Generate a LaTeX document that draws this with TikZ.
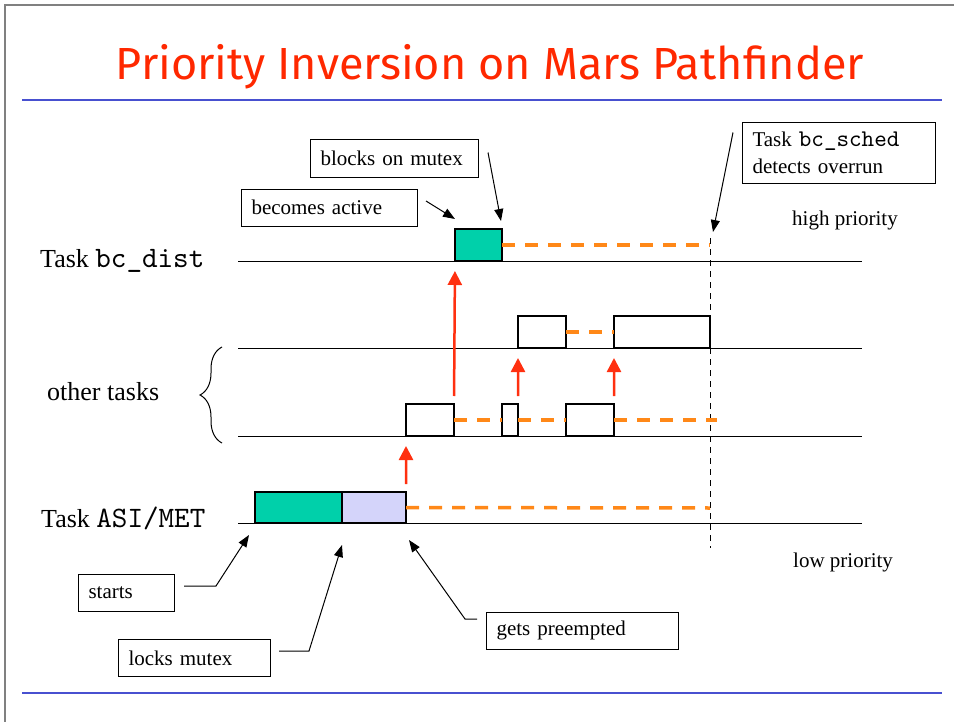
\documentclass[tikz,border=0pt]{standalone}
\usepackage{fontspec}
\setmainfont{Liberation Serif}
\setmonofont{lmmono10-regular.otf}[Scale=1.14]
\newfontfamily\titlefont{Fira Sans}
\usetikzlibrary{arrows.meta, decorations.pathreplacing}

\definecolor{titlered}{RGB}{255,40,0}
\definecolor{ruleblue}{RGB}{72,80,208}
\definecolor{runcolor}{RGB}{0,208,170}
\definecolor{lockcolor}{RGB}{212,212,250}
\definecolor{waitorange}{RGB}{255,136,24}
\definecolor{wakered}{RGB}{255,48,16}

\begin{document}
\begin{tikzpicture}[
    x=1bp, y=-1bp,
    title/.style={font=\titlefont\fontsize{45bp}{50bp}\selectfont, text=titlered, inner sep=0pt, anchor=base},
    rule/.style={draw=ruleblue, line width=2.5bp},
    frame/.style={draw=gray, line width=1.5bp},
    taskline/.style={draw, line width=1bp},
    tasklabel/.style={font=\fontsize{26bp}{30bp}\selectfont, inner sep=0pt, anchor=base west},
    slot/.style={rectangle, draw, line width=1.2bp, fill=white, inner sep=0pt, outer sep=0pt, minimum height=32bp},
    running/.style={slot, fill=runcolor},
    locked/.style={slot, fill=lockcolor},
    waiting/.style={draw=waitorange, line width=3.5bp, dash pattern=on 13bp off 10bp},
    wake/.style={draw=wakered, line width=2.5bp, -{Triangle[length=14bp,width=14bp]}, shorten <=8bp, shorten >=10bp},
    deadline/.style={draw, line width=1bp, dash pattern=on 6bp off 5bp},
    note/.style={rectangle, draw, line width=1bp, fill=white, anchor=west, inner xsep=10bp, inner ysep=0pt, minimum height=37bp, font=\fontsize{21bp}{27bp}\selectfont, align=left},
    callout/.style={draw, line width=1bp, -{Triangle[length=12bp,width=9bp]}},
    prio/.style={font=\fontsize{21bp}{26bp}\selectfont, inner sep=0pt, anchor=base west}
]
\useasboundingbox (0,0) rectangle (954,722);

% Slide frame and title
\draw[frame] (5,722) -- (5,5) -- (954,5);
\node[title] (ttl) at (490,80) {Priority Inversion on Mars Pathfinder};
\draw[rule] (22,100) -- (942,100);
\draw[rule] (22,693) -- (942,693);

% Task lines
\foreach \y in {261,348,436,523}
    \draw[taskline] (238,\y) -- (862,\y);

% Task names
\node[tasklabel] (hi) at (40,267) {Task \texttt{bc\_dist}};
\node[tasklabel] (other) at (47,400) {other tasks};
\node[tasklabel] (lo) at (41,527) {Task \texttt{ASI/MET}};
\draw[decorate, decoration={brace, amplitude=22bp}, line width=1bp] (222,443) -- (222,347);
\node[prio] (hp) at (792,225) {high priority};
\node[prio] (lp) at (793,567) {low priority};

% Deadline
\coordinate (dtop) at (710,238);
\coordinate (dbot) at (710,548);
\draw[deadline] (dtop) -- (dbot);

% Time slots
\node[running, minimum width=47bp] (hb) at (478.5,245) {};
\node[slot, minimum width=48bp] (o1) at (542,332) {};
\node[slot, minimum width=96bp] (o2) at (662,332) {};
\node[slot, minimum width=48bp] (l1) at (430,420) {};
\node[slot, minimum width=16bp] (l2) at (510,420) {};
\node[slot, minimum width=48bp] (l3) at (590,420) {};
\node[running, minimum width=87bp, minimum height=31bp] (asi1) at (298.5,507.5) {};
\node[locked, minimum width=64bp, minimum height=31bp] (asi2) at (374,507.5) {};

% Waiting
\coordinate (hend) at (710,245);
\coordinate (lend) at (717,420);
\coordinate (aend) at (710,508);
\draw[waiting] (hb.east) -- (hend);
\draw[waiting] (o1.east) -- (o2.west);
\draw[waiting] (l1.east) -- (l2.west);
\draw[waiting] (l2.east) -- (l3.west);
\draw[waiting] (l3.east) -- (lend);
\draw[waiting] (asi2.east) -- (aend);

% Preemptions
\draw[wake] (asi2.north east) -- (l1.south west);
\draw[wake] (l1.north east) -- (hb.south west);
\draw[wake] (l2.north east) -- (o1.south west);
\draw[wake] (l3.north east) -- (o2.south west);

% Notes
\node[note, text width=148bp] (blk) at (310,158.5) {blocks on mutex};
\node[note, text width=156bp] (act) at (241,207.5) {becomes active};
\node[note, text width=173bp, minimum height=60bp] (sch) at (742,153) {Task \texttt{bc\_sched}\\detects overrun};
\node[note, text width=76bp] (st) at (78,592.5) {starts};
\node[note, text width=132bp] (lk) at (118,658) {locks mutex};
\node[note, text width=172bp] (gp) at (486,630.5) {gets preempted};

\draw[callout] ([shift={(9,13)}]blk.north east) -- ([shift={(-1,-8)}]hb.north east);
\draw[callout] ([shift={(8,-6.5)}]act.east) -- ([shift={(0,-10)}]hb.north west);
\draw[callout] ([shift={(-9,10)}]sch.north west) -- ([shift={(3,-13)}]hend);
\draw[callout] ([shift={(9,-6.5)}]st.east) -- ++(32,0) -- ([shift={(-6,12)}]asi1.south west);
\draw[callout] ([shift={(8,-7)}]lk.east) -- ++(30,0) -- ([shift={(0,22)}]asi1.south east);
\draw[callout] ([shift={(-9,-11.5)}]gp.west) -- ++(-12,0) -- ([shift={(3,17)}]asi2.south east);

\end{tikzpicture}
\end{document}
